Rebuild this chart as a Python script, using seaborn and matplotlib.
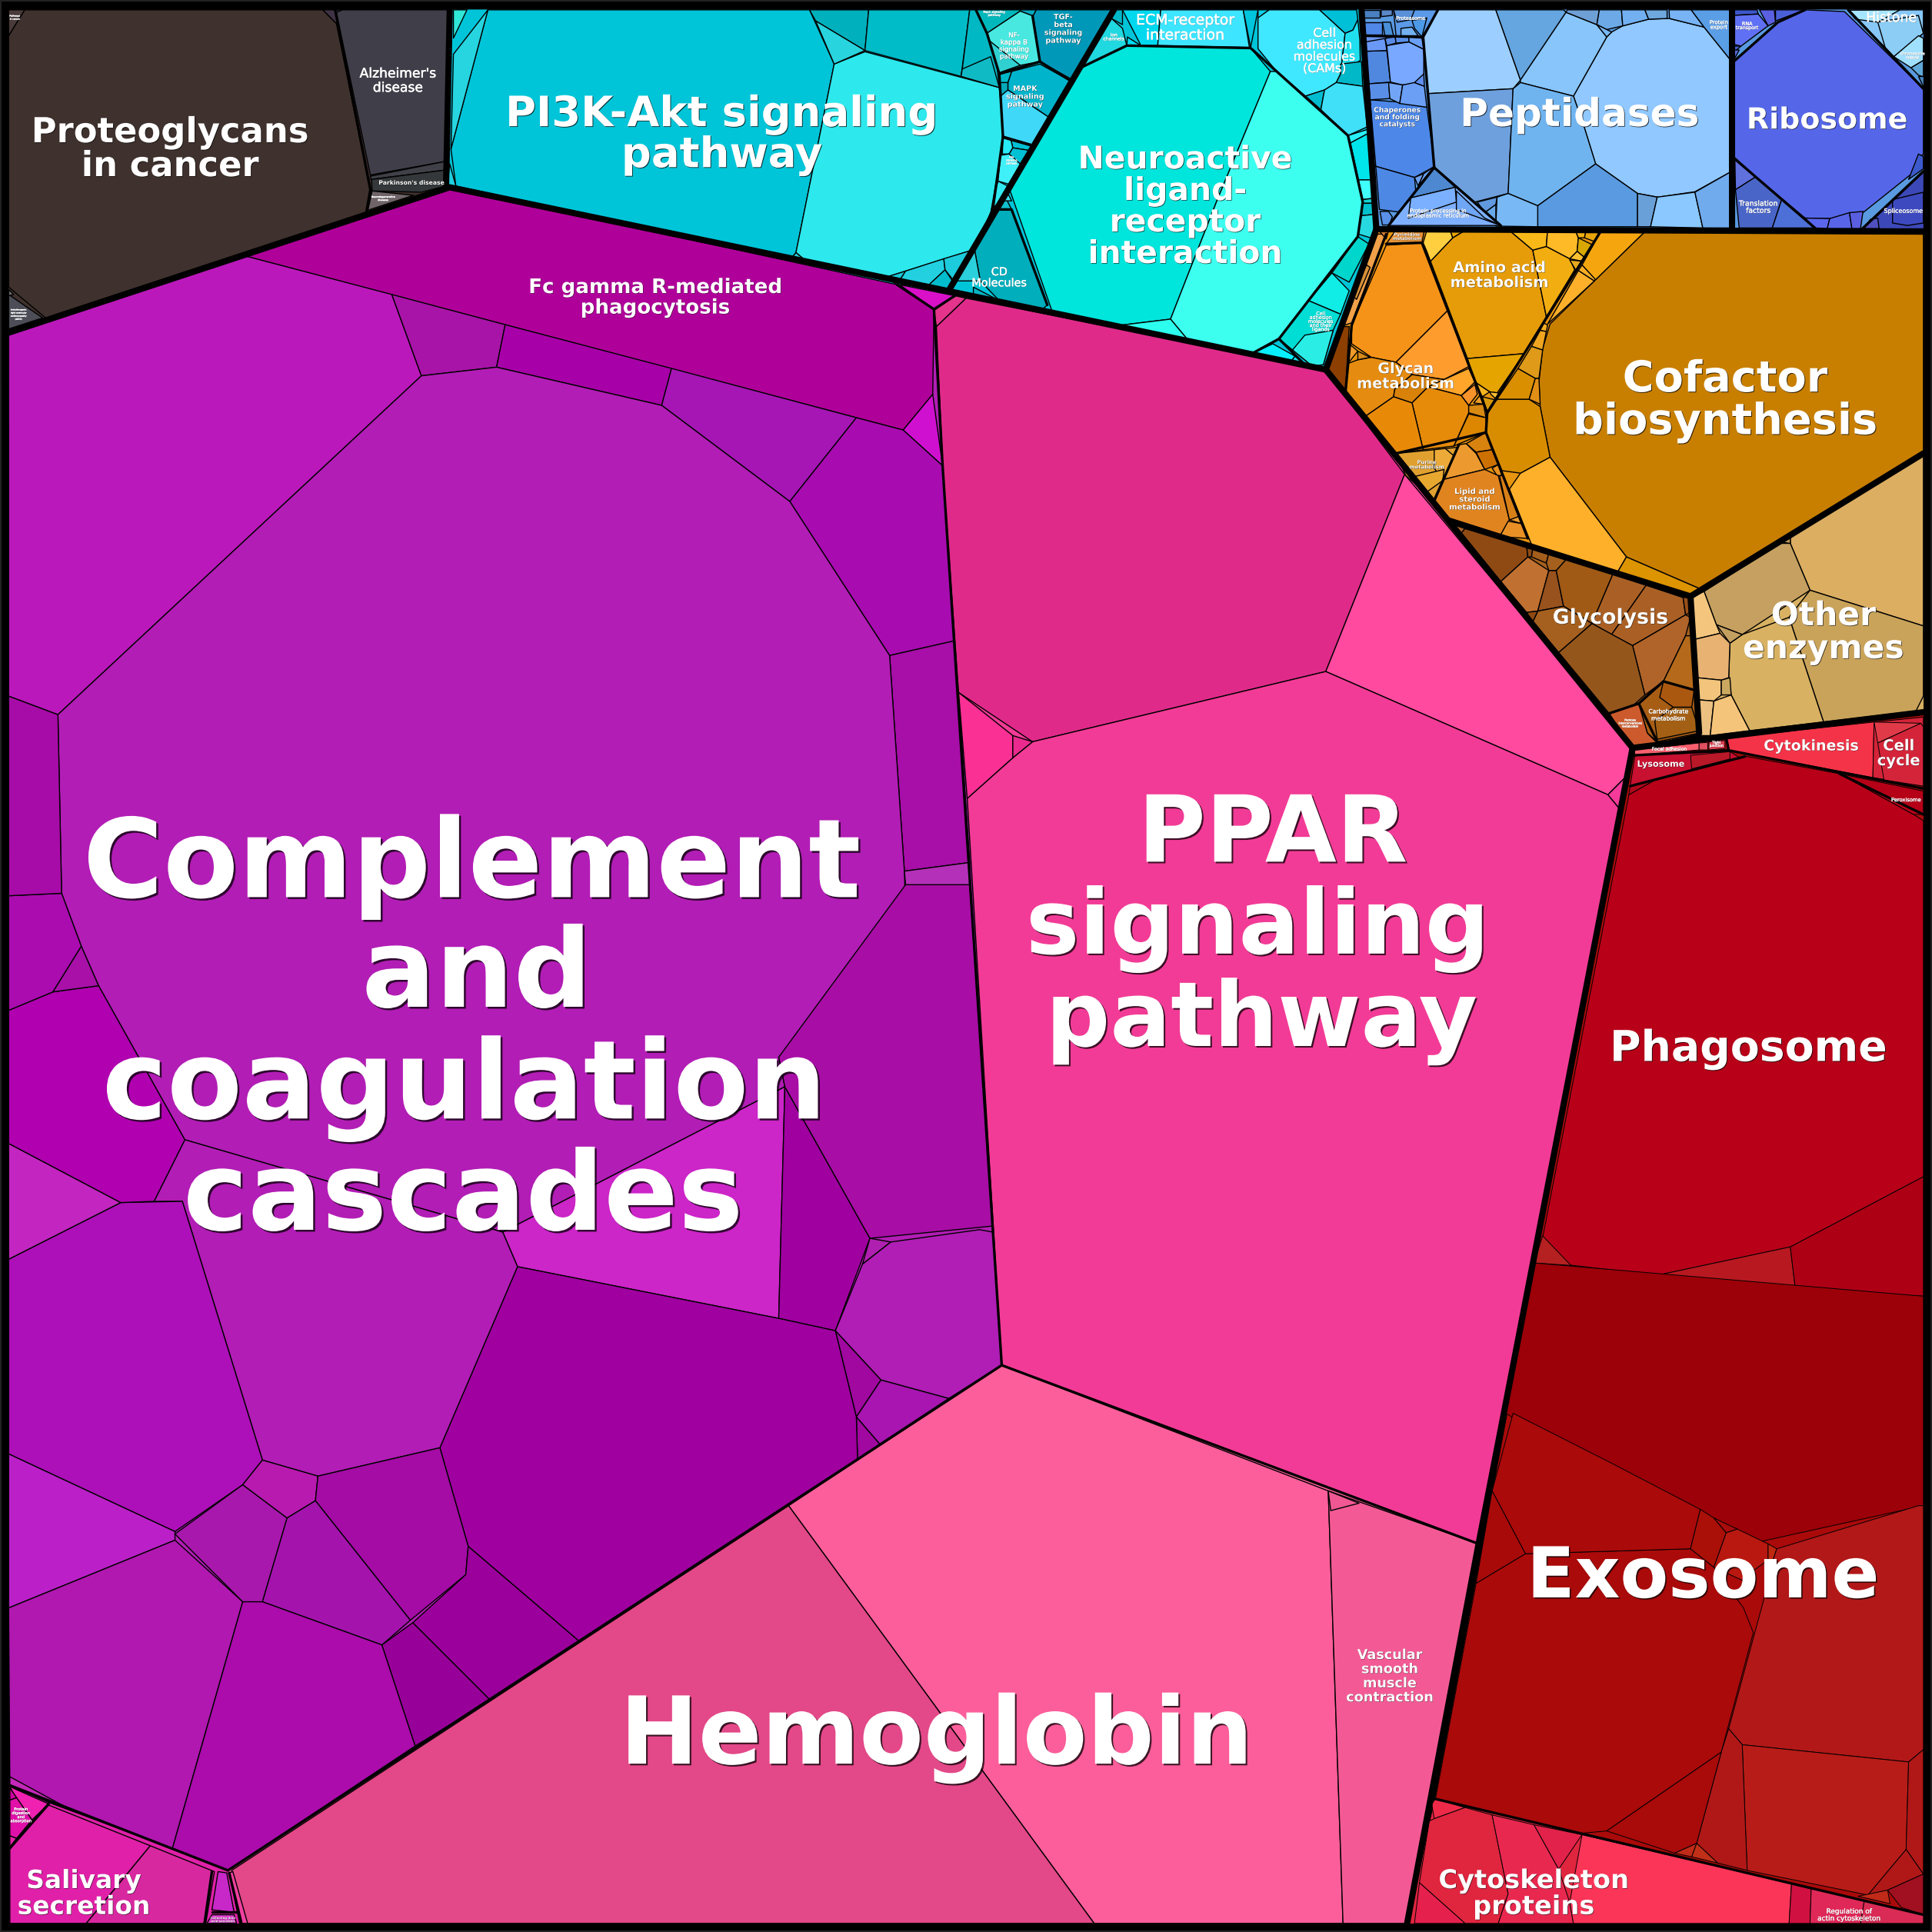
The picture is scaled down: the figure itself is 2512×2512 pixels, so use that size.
import matplotlib
matplotlib.use('Agg')
import matplotlib.pyplot as plt
import matplotlib.patheffects as pe
import pandas as pd
import seaborn as sns

# cells, in a 1568 x 1568 frame

base_polys = [
    [(7,8),(365,8),(362,152),(7,270)],
    [(365,8),(1105,8),(1117,186),(1076,300),(760,250),(365,152)],
    [(1105,8),(1561,8),(1561,188),(1117,186)],
    [(1117,186),(1561,188),(1561,368),(1372,484),(1177,423),(1076,300)],
    [(1177,423),(1372,484),(1379,595),(1325,607)],
    [(1372,484),(1561,368),(1561,578),(1380,597)],
    [(1325,607),(1561,578),(1561,1554),(1165,1460)],
    [(1165,1460),(1561,1554),(1561,1561),(1142,1561)],
    [(760,250),(1076,300),(1325,607),(1200,1253),(813,1108)],
    [(813,1108),(1200,1253),(1142,1561),(200,1561),(185,1518)],
    [(7,270),(365,152),(760,250),(813,1108),(185,1518),(8,1449)],
    [(8,1442),(185,1518),(200,1561),(8,1561)],
]
base_colors = ['#3f312d','#00c5d8','#5a9ae0','#e8950f','#a5601e','#d8b162',
               '#aa0a0a','#e0253f','#f23b96','#fb5e9a','#b21db5','#e020a8']

dark_polys = [
    [(7,29),(20,8),(262,8),(273,19),(300.6,154),(297.4,172),(37,258),(7,233)],
    [(7,8),(20,8),(7,29)],
    [(262,8),(278,8),(273,19)],
    [(273,10),(278,8),(365,8),(361.6,131),(300.6,142)],
    [(300.6,143),(361.6,131),(361.6,138),(301,145.6)],
    [(301.6,145.6),(361.6,138),(361.6,151),(342,156),(302,155)],
    [(302,155),(335.6,158.5),(298.6,170.6)],
    [(7,239),(34.6,258),(7,267)],
    [(7,235),(11,239),(7,240)],
]
dark_colors = ['#3f312d','#4a3a3a','#3f3345','#403e49','#404048','#34383a',
               '#6f6468','#4d4d57','#6a6a6a']

purple_polys = [
    [(200,208),(365,152),(728,231),(758,251),(757,320),(733,349)],
    [(733,349),(757,320),(765,378)],
    [(730,231),(775,240),(758,251)],
    [(7,270),(200,208),(318,239),(342,305),(47,580),(7,565)],
    [(318,239),(410,263.5),(403,298),(342,305)],
    [(410,263.5),(545,299),(537,329),(403,298)],
    [(545,299),(695,339),(641,407),(537,329)],
    [(695,339),(733,349),(765,378),(775,520),(722,532),(641,407)],
    [(722,532),(775,520),(787,700),(734,707)],
    [(342,305),(403,298),(537,329),(641,407),(722,532),(734,707),(735,740),(632,858),(637,882),(408,1000),(150,925),(80,800),(66,768),(50,725),(47,580)],
    [(408,1000),(637,882),(632,1070),(420,1028)],
    [(637,882),(706,1005),(678,1080),(632,1070)],
    [(735,718),(787,718),(806,995),(706,1005),(637,882),(632,858)],
    [(734,707),(787,700),(787,718),(735,718)],
    [(706,1005),(723,1008),(700,1026)],
    [(723,1008),(795,998),(806,1000),(813,1108),(770,1135),(715,1120),(678,1080),(700,1026)],
    [(678,1080),(715,1120),(695,1150)],
    [(715,1120),(770,1135),(714,1172),(695,1150)],
    [(695,1150),(714,1172),(696,1185)],
    [(420,1028),(632,1070),(678,1080),(695,1150),(696,1185),(470,1332),(380,1255),(357,1175)],
    [(125,975),(150,925),(408,1000),(420,1028),(357,1175),(258,1198),(213,1185),(148,975)],
    [(7,1022),(98,976),(148,975),(213,1185),(197,1205),(142,1243),(7,1180)],
    [(7,928),(98,976),(7,1022)],
    [(7,820),(43,805),(80,800),(150,925),(125,975),(98,976),(7,928)],
    [(7,727),(50,725),(66,768),(43,805),(7,820)],
    [(66,768),(80,800),(43,805)],
    [(7,565),(47,580),(50,725),(7,727)],
    [(7,1180),(142,1243),(142,1250),(7,1305)],
    [(7,1305),(142,1250),(197,1300),(140,1500),(40,1463),(8,1449)],
    [(197,1205),(233,1232),(213,1300),(197,1300),(142,1245)],
    [(213,1185),(258,1198),(256,1218),(233,1232),(197,1205)],
    [(258,1198),(357,1175),(380,1255),(378,1278),(333,1315),(256,1218)],
    [(378,1278),(380,1255),(470,1332),(398,1380),(335,1317)],
    [(233,1232),(256,1218),(333,1315),(310,1335),(213,1300)],
    [(197,1300),(213,1300),(310,1335),(337,1417),(185,1518),(140,1500)],
    [(310,1335),(335,1317),(398,1380),(337,1417)],
]
purple_colors = ['#b0009a','#d010d0','#d910c8','#bb18bb','#a814a8','#a800a8','#a516b5','#a80cb0',
                 '#a80ea8','#b21db5','#cc25c8','#a000a0','#a80ea5','#b530b8','#b020b0',
                 '#b01eb5','#a008a0','#a815b0','#a008a0','#a000a0','#b21db5','#ad10b8',
                 '#c325c0','#b000b0','#ab0cb0','#a810a8','#a80ca8','#bb20c8','#b018b0',
                 '#a818ad','#b81ab0','#a40ca5','#9c009c','#a414ad','#ab0cab','#98009a']

pink_polys = [
    [(760,265),(784,242),(1076,300),(1140,385),(1076,545),(838,602),(778,562),(765,378)],
    [(758,252),(775,240),(784,242),(760,265)],
    [(1140,385),(1325,607),(1322,628),(1305,645),(1076,545)],
    [(838,602),(1076,545),(1305,645),(1315,657),(1200,1253),(813,1108),(785,648),(822,615)],
    [(1305,645),(1322,628),(1315,657)],
    [(778,562),(822,597),(822,615),(785,648)],
    [(822,597),(838,602),(822,615)],
    [(813,1108),(1078,1210),(1090,1561),(888,1561),(640,1222)],
    [(640,1222),(888,1561),(200,1561),(188,1518)],
    [(1078,1210),(1200,1253),(1143,1561),(1090,1561)],
    [(1078,1210),(1103,1220),(1080,1226)],
]
pink_colors = ['#e02a8a','#e4348c','#ff4a9f','#f23b96','#f53a9a','#fb3095','#ea2a8e','#fb5e9a',
               '#e34888','#f35a95','#ef5892']

red_polys = [
    [(1322,645),(1345,632),(1418,614),(1493,628),(1553,661),(1561,666),(1561,955),(1453,1012),(1345,1035),(1260,1025),(1248,1025)],
    [(1345,1035),(1453,1012),(1457,1045)],
    [(1453,1012),(1561,955),(1561,1052),(1457,1045)],
    [(1252,1003),(1275,1027),(1245,1025)],
    [(1245,1025),(1561,1052),(1561,1222),(1402,1257),(1222,1147)],
    [(1198,1285),(1238,1261),(1372,1257),(1391,1272),(1415,1305),(1423,1325),(1397,1422),(1304,1486),(1282,1488),(1165,1460)],
    [(1228,1147),(1305,1186),(1380,1225),(1372,1257),(1238,1261),(1211,1210)],
    [(1211,1210),(1238,1261),(1198,1285)],
    [(1380,1225),(1391,1232),(1401,1244),(1391,1272),(1372,1257)],
    [(1391,1232),(1410,1241),(1401,1244)],
    [(1401,1244),(1410,1241),(1435,1253),(1435,1266),(1424,1274),(1415,1283),(1391,1272)],
    [(1435,1253),(1442,1257),(1438,1269),(1435,1266)],
    [(1442,1257),(1557,1222),(1561,1222),(1561,1420),(1549,1430),(1414,1416),(1403,1403),(1431,1300),(1438,1269)],
    [(1414,1416),(1549,1430),(1547,1501),(1516,1538),(1418,1518)],
    [(1403,1403),(1414,1416),(1418,1518),(1394,1512),(1377,1496),(1397,1422)],
    [(1359,1504),(1377,1496),(1373,1507)],
    [(1304,1486),(1397,1422),(1377,1496),(1359,1504)],
    [(1377,1496),(1394,1512),(1373,1507)],
    [(1549,1430),(1561,1420),(1561,1521),(1547,1501)],
    [(1516,1538),(1547,1501),(1561,1521),(1532,1534)],
    [(1532,1534),(1561,1521),(1561,1554),(1543,1548)],
    [(1508,1539),(1532,1534),(1534,1545)],
    [(1401,599),(1521,586),(1520,631),(1403,609)],
    [(1521,586),(1561,582),(1561,638),(1520,631)],
    [(1521,586),(1559,587),(1524,603)],
    [(1524,603),(1559,587),(1561,590),(1561,638),(1529,633)],
    [(1326,608.6),(1379,603),(1379,608.6),(1327,613)],
    [(1379,603),(1386,602.5),(1386,608.6),(1379,608.6)],
    [(1387,602),(1400,601),(1400,607.5),(1387,608.6)],
    [(1327,613),(1404,610),(1412,615),(1323,638)],
    [(1372,613),(1404,610),(1404,616),(1373,624)],
    [(1323,638),(1345,632),(1322,645)],
    [(1493,628),(1561,642),(1561,661),(1553,661)],
    [(1165,1460),(1189,1467),(1164,1476),(1162,1464)],
    [(1189,1467),(1211,1473),(1224,1537),(1216,1561),(1189,1561),(1152,1528),(1160,1478),(1164,1476)],
    [(1152,1528),(1189,1561),(1148,1561)],
    [(1211,1473),(1245,1481),(1265,1517),(1274,1544),(1277,1561),(1216,1561),(1224,1537)],
    [(1245,1481),(1284,1489),(1265,1517)],
    [(1284,1489),(1454,1529),(1452,1561),(1277,1561),(1274,1544)],
    [(1454,1529),(1470,1533),(1469,1561),(1452,1561)],
    [(1470,1533),(1508,1541),(1513,1543),(1510,1561),(1469,1561)],
    [(1513,1543),(1561,1554),(1561,1561),(1510,1561)],
]
red_colors = ['#b80018','#b81820','#ad0015','#b52020','#9c0008','#aa0a0a','#aa0a0a','#a80a0a',
              '#aa1008','#a80c0c','#b81810','#c02810','#b21818','#b81c18','#b01818','#c02a18',
              '#a90a0a','#c03018','#b01818','#b01818','#a01020','#c02a18','#f53348','#d42338',
              '#e03a48','#d4243a','#f9606e','#e05060','#d8404f','#c81030','#b81828','#b0081c',
              '#b50018','#ee2a48','#e0253f','#e6204c','#e92850','#e2224a','#fb3558','#d01040',
              '#e02858','#d92b55']

tan_polys = [
    [(1453,441),(1453,435),(1561,368),(1561,508),(1469,479)],
    [(1383,480),(1445,441),(1453,441),(1469,479),(1414,515),(1393,507)],
    [(1446,440),(1453,435),(1453,441)],
    [(1452,501),(1469,479),(1561,508),(1561,565),(1555,577),(1480,586)],
    [(1414,515),(1452,501),(1480,586),(1420,593),(1405,564),(1403,550),(1404,522)],
    [(1393,507),(1414,515),(1404,522)],
    [(1373,485),(1383,480),(1393,507),(1396,514),(1375,519)],
    [(1375,519),(1396,514),(1404,522),(1403,550),(1397,552),(1377,550)],
    [(1377,550),(1397,552),(1397,564),(1391,569),(1379,568)],
    [(1379,568),(1391,569),(1388,597),(1380,597)],
    [(1391,569),(1405,564),(1420,593),(1388,597)],
    [(1397,552),(1404,550),(1405,564),(1397,564)],
]
tan_colors = ['#dcae62','#c5a060','#c09a58','#c9a35a','#d8b162','#c4a060','#f4c67d','#e7b272',
              '#f2c47c','#ecc080','#f4c47a','#caa860']

brown_polys = [
    [(1177,423),(1189,429),(1184,435)],
    [(1189,429),(1239,443),(1240,452),(1218,472),(1184,435)],
    [(1218,472),(1240,452),(1257,463),(1248,496),(1239,497)],
    [(1257,463),(1263,463),(1269,492),(1248,496)],
    [(1263,463),(1271,454),(1309,466),(1292,506),(1269,492)],
    [(1239,443),(1244,445),(1243,452),(1240,452)],
    [(1244,445),(1257,449),(1255,457),(1243,452)],
    [(1257,449),(1271,454),(1263,463),(1257,463),(1255,457)],
    [(1309,466),(1336,475),(1308,515),(1292,506)],
    [(1336,475),(1366,485),(1368,499),(1325,524),(1308,515)],
    [(1366,485),(1372,484),(1372,497),(1368,499)],
    [(1368,499),(1372,501),(1368,516),(1350,553),(1335,564),(1325,524)],
    [(1265,529.5),(1292,506),(1325,524),(1335,564),(1326,572),(1306,579)],
    [(1244,504.6),(1248,496),(1269,492),(1292,506),(1265,529.5)],
    [(1239,497),(1248,496),(1244,504.6)],
    [(1368,516),(1373,516),(1375,560),(1350,553)],
    [(1330,571),(1350,553),(1375,560),(1379,595),(1345,602),(1337,595)],
    [(1347,566),(1350,553),(1375,560),(1373,574),(1358,574)],
    [(1343,585),(1358,574),(1373,574),(1379,593),(1345,600)],
    [(1306,579),(1330,571),(1337,595),(1345,603),(1325,607.5)],
]
brown_colors = ['#a9642a','#8f4a14','#c07030','#98521e','#a05a15','#8a4a14','#a35e1c','#a5601e',
                '#aa6025','#aa6025','#9a5018','#b0642a','#95561c','#a5601f','#8f4a14','#b46a1a',
                '#a85d15','#aa5810','#a36015','#cc5a2c']

orange_polys = [
    [(1258,263),(1335,188),(1561,190),(1561,368),(1380,478),(1320,452),(1258,371),(1250,330),(1249,310),(1252,283)],
    [(1258,371),(1234,384),(1225,397),(1241,437),(1243,442),(1313,464),(1320,452)],
    [(1320,452),(1380,478),(1372,484),(1313,464)],
    [(1250,330),(1258,371),(1234,384),(1219,382),(1206,351),(1207,336),(1215,324),(1241,324)],
    [(1241,324),(1246,307),(1249,307),(1250,328)],
    [(1215,324),(1232,299),(1246,307),(1241,324)],
    [(1232,299),(1243,281),(1252,284),(1249,307),(1246,307)],
    [(1243,281),(1250,268),(1255,269),(1252,284)],
    [(1256,263),(1281,219.5),(1294,228)],
    [(1281,219.5),(1284,215),(1295,226.4),(1294,228)],
    [(1284,215),(1299,188),(1335,188),(1295,227)],
    [(1250,268),(1253,262),(1256,264),(1255,269)],
    [(1161,212),(1179,193),(1189,187),(1225,187),(1244,203),(1255,257),(1237,287),(1191,291)],
    [(1191,291),(1237,287),(1215,319),(1209,318),(1197,310)],
    [(1244,203),(1255,200),(1274,210),(1278,219),(1255,257)],
    [(1158,187),(1177,187),(1179,193),(1161,212),(1158,204),(1155,197)],
    [(1177,187),(1189,187),(1179,193)],
    [(1225,187),(1256,187),(1255,200),(1244,203)],
    [(1256,187),(1279,188),(1281,193),(1280,204),(1274,210),(1255,200)],
    [(1281,193),(1293,199),(1286,209),(1280,204)],
    [(1279,188),(1287,188),(1286,193),(1281,193)],
    [(1287,188),(1298,188),(1294,196),(1286,193)],
    [(1280,204),(1286,209),(1284,212),(1274,210)],
    [(1274,211),(1284,212),(1279,219.5)],
    [(1197,310),(1209,318),(1203,322)],
    [(1209,318),(1217,319),(1215,324.6),(1210,320)],
    [(1203,322),(1214,324.6),(1207,335)],
    [(1125,199),(1154,197),(1175,252),(1133,294),(1113,290),(1097,279),(1097,264)],
    [(1133,294),(1175,252),(1192,297.5),(1172,308),(1146,304)],
    [(1102,292),(1113,290),(1133,294),(1146,304),(1132,316),(1131,322),(1108,338),(1092,318),(1094,295)],
    [(1132,316),(1146,304),(1172,308),(1159,314),(1146,327),(1131,322)],
    [(1172,308),(1192,299),(1197,310),(1186,321),(1159,314)],
    [(1146,327),(1159,314),(1186,321),(1192,329),(1192,335),(1180,362),(1155,365)],
    [(1108,338),(1131,322),(1146,327),(1155,365),(1133,368)],
    [(1186,321),(1197,312),(1199,320),(1192,329)],
    [(1196,327),(1201,321),(1204,328)],
    [(1192,329),(1204,328),(1206,339),(1192,335)],
    [(1192,336),(1206,339),(1206,351),(1180,362)],
    [(1095,279),(1102,285),(1094,295)],
    [(1102,285),(1112,290),(1102,292)],
    [(1172,389),(1184,361),(1190,360),(1198,368),(1205,381)],
    [(1190,360),(1206,351),(1211,365),(1198,367)],
    [(1198,367),(1211,365),(1216,377),(1205,381)],
    [(1216,377),(1219,386),(1215,386),(1211,380)],
    [(1172,389),(1205,381),(1216,386),(1225,422),(1218,434),(1175,420),(1164,408)],
    [(1217,386),(1220,386),(1233,420),(1225,422)],
    [(1225,422),(1233,419),(1235,425)],
    [(1224,423),(1235,425),(1240,437),(1225,436),(1218,434)],
    [(1133,368),(1164,365),(1183,363),(1171,390),(1164,406),(1141,386)],
    [(1164,365),(1173,364),(1180,370),(1171,390),(1164,380)],
    [(1147,387),(1172,381),(1171,390),(1157,400)],
    [(1076,300),(1089,265),(1095,265),(1092,318)],
    [(1091,264),(1118,190),(1125,190),(1097,262)],
    [(1098,240),(1109,215),(1112,217),(1101,243)],
    [(1125,198),(1132,188),(1156,187),(1154,197)],
    [(1119,187),(1127,187),(1125,194)],
]
orange_colors = ['#c87f00','#ffb02b','#dc9400','#d88d00','#e28f15','#da8f00','#de9a18','#f0a520',
                 '#ffb02b','#f8ad25','#f5a60f','#f5ae20','#e69c08','#e5a400','#f2ad10','#ffcf40',
                 '#e5a400','#f8b818','#ffba28','#d9a800','#f0b010','#e8a50a','#fcc030','#e8a820',
                 '#f5b520','#ffbe30','#d89808','#f59318','#ff9c2e','#e58c10','#d8820a','#ffa52a',
                 '#e68a0a','#e88a08','#f8922a','#ee9e28','#d98a12','#dd8600','#f09a2a','#d88a1a',
                 '#ec9a30','#d88210','#cc7000','#e69020','#e08420','#d88018','#e89a30','#e89025',
                 '#e0a030','#ecaa38','#e8a830','#8c3f00','#f0a048','#d89038','#e89438','#d88030']

cyan_polys = [
    [(396,8),(657,8),(677,52),(646,205),(642,210),(370,151),(366,121)],
    [(677,52),(702,42),(811,71),(815,111),(804,173),(789,203),(719,225),(652,210),(646,205)],
    [(657,8),(705,8),(702,41),(662,17)],
    [(662,17),(702,41),(677,52)],
    [(705,8),(787,8),(780,62),(702,41)],
    [(787,8),(792,8),(803,27),(809,52),(811,71),(780,62),(781,56)],
    [(781,56),(804,46),(811,71),(780,62)],
    [(368,44),(396,8),(366,121)],
    [(368,8),(379,8),(368,31)],
    [(365,133),(370,151),(363,151)],
    [(719,225),(735,220),(728,231)],
    [(735,220),(766,210),(767,219),(753,232),(728,231)],
    [(766,210),(789,203),(775,229),(767,219)],
    [(767,219),(775,231),(770,236),(753,232)],
    [(642,210),(646,205),(652,210)],
    [(792,8),(828,8),(828,9),(801,27)],
    [(828,8),(841,8),(838.5,13),(828,9)],
    [(801,27),(828,9),(838.5,13),(844,50),(828,53),(811,59)],
    [(803,33),(811,59),(828,53)],
    [(841,8),(904,8),(870,64.5),(844,50),(838.5,13)],
    [(821,58),(844,52),(868.4,65.5),(851,95),(818,73),(818,67)],
    [(812,77),(818,73),(851,95),(838,118),(814,111)],
    [(810.6,67),(818,67),(818,73),(812,78)],
    [(811,60),(821,58),(818,67),(810.6,67)],
    [(820.6,114),(837,118.6),(835,122),(822,120)],
    [(814,112),(820.6,114),(822,120),(819,125),(813.5,125)],
    [(819,125),(822,120),(835,122),(828,133),(818,131)],
    [(812,126),(819,125),(828,133),(820.6,150),(810,147)],
    [(810,147),(818,151),(805,175),(807,158)],
    [(902,15),(911,23),(914.5,37),(878,54.5)],
    [(905,8),(911,8),(911,20),(902,15)],
    [(911,8),(942,8),(939.6,37),(914.5,37),(915,30),(926,37)],
    [(942,8),(1009,8),(1014,38.5),(939.6,37)],
    [(1009,8),(1021,8),(1015,38.5)],
    [(1021,8),(1030,8),(1021,15)],
    [(1030,8),(1071,8),(1091.7,27),(1088,60),(1084.5,67),(1075,73),(1059.5,78),(1036,58),(1021,39.5),(1021,14.5)],
    [(1071,8),(1101,8),(1102,16),(1098,24.5),(1091.7,27)],
    [(1102,16),(1103.6,32),(1104,49),(1088,60),(1091.7,27),(1098,24.5)],
    [(1088,52),(1105,50),(1106,70),(1084.5,67),(1088,60)],
    [(1059.5,78),(1075,73),(1072,89)],
    [(1075,73),(1084.5,67),(1106,70),(1109.6,103),(1094,110),(1072,89)],
    [(1094,110),(1110,105),(1111,108),(1096,116)],
    [(1096,116),(1111,108),(1113,146),(1102.5,146)],
    [(1102.5,146),(1113,146),(1114,161),(1106,162)],
    [(1106,162),(1114,161),(1115,165),(1106,165)],
    [(1106,165),(1115,165),(1115.6,174),(1105,175)],
    [(1105,175),(1115.6,174),(1116,183),(1114,193.5),(1102.4,190)],
    [(878,54.5),(914.5,37),(1015,39),(1031,58),(988,162),(950,259),(909,264),(854,253),(819.5,154)],
    [(1031,58),(1036,58),(1094,110),(1106,164),(1102,192),(1062,244),(1038,275),(1016,287),(965,277),(950,259),(988,162)],
    [(909,264),(950,259),(965,277)],
    [(1081,221.5),(1095,236),(1088,255),(1062,244)],
    [(1102,192),(1111,198),(1095,229),(1081,221.5)],
    [(1062,244),(1088,255),(1082,268),(1074,296),(1065,297),(1049,284),(1038,275)],
    [(1049,284),(1059,272),(1082,268),(1074,296),(1065,297)],
    [(1016,287),(1033,279),(1051,289),(1047.5,294)],
    [(1051,289),(1059,296),(1047.5,294)],
    [(791,203),(805,170),(821,170),(850,247.5),(846,251),(811,244),(795.6,228)],
    [(791,203),(795.6,228),(775,228)],
    [(790,233),(811,244),(790,239)],
    [(805,170),(821,170),(817,162),(811.6,163)],
    [(811.6,163),(817,155),(821,163)],
]
cyan_colors = ['#00c5d8','#2de8ec','#00b0bc','#28d5de','#00bcc8','#00b8c4','#10bac5','#26d5e0',
               '#30e8d8','#20d0e0','#18cad8','#22d0e0','#1ccbdc','#00bccc','#20d0dc','#00b8bc',
               '#08a8c0','#48e8e0','#30d0d0','#0098b8','#00b4cc','#40d8f8','#00aabb','#00b8c8',
               '#00c0d4','#28eaf8','#00c0d4','#40f0f8','#30e8f0','#20d8e0','#00b8c8','#00d8f0',
               '#3de5ff','#00c5dd','#10d0e8','#40e8ff','#00c0d8','#20e0f0','#00b8c8','#00bcd0',
               '#3fe0f8','#28f0f8','#00e4ec','#40ffff','#10d0d0','#00c0cc','#28d8e0','#00e5dc',
               '#3cfff0','#2cffee','#10ece6','#00d6cc','#00ddd4','#2aeee6','#08f0ff','#18e0ea',
               '#00aebc','#2ad0dc','#06b5c5','#10c0cc','#3ce0ee']

blue_polys = [
    [(1304,30),(1308,26),(1317,21),(1338,15.6),(1354.6,15),(1383,22),(1405.5,50),(1405.5,139),(1375.6,155.6),(1345.6,160),(1329,157),(1295,133),(1286,104),(1277,78)],
    [(1155,30),(1163,8),(1214,8),(1234,65),(1228,72),(1159,76)],
    [(1214,8),(1269,8),(1271,10),(1234,65)],
    [(1271,10),(1296,20),(1304,30),(1277,78),(1234,67),(1234,65)],
    [(1159,76),(1228,72),(1224,157),(1197,164),(1164,136)],
    [(1228,72),(1234,67),(1277,78),(1286,104),(1295,133),(1248,167),(1224,157)],
    [(1295,133),(1329,157),(1329,184),(1248,184),(1248,167)],
    [(1329,157),(1345,160),(1339.6,184),(1329,184)],
    [(1345,160),(1375.6,156),(1382,185),(1339.6,184)],
    [(1375.6,156),(1405.5,139),(1405.5,185),(1382,185)],
    [(1215,160),(1224,157),(1248,167),(1248,184),(1214,183.5)],
    [(1199,164),(1215,160),(1214,166),(1205,172.6)],
    [(1214,166),(1214,183),(1205,172.6)],
    [(1272,8),(1298,8),(1296,20),(1271,10)],
    [(1298,8),(1316,8),(1317,21),(1304,24),(1296,20)],
    [(1316,8),(1335,8),(1338,15.6),(1317,21)],
    [(1335,8),(1353,8),(1353,15),(1338,15.6)],
    [(1296,20),(1308,26),(1304,30)],
    [(1354.6,8),(1372.6,8),(1383,22),(1355,15)],
    [(1372.6,8),(1405.5,8),(1405.5,50),(1383,22)],
    [(1112,81),(1137.5,83),(1158,87),(1164.5,135),(1148,144),(1116.6,135)],
    [(1108.5,41.6),(1125.5,41),(1128.5,66.6),(1111,68)],
    [(1125.5,37),(1143.5,34),(1155.5,40),(1155.5,66.6),(1138.4,69),(1128.5,66.6)],
    [(1111,68),(1127,67),(1128,80),(1112,81)],
    [(1127,67),(1138.4,69),(1136,84),(1128,80)],
    [(1138.4,69),(1148,67),(1156,70),(1158,87),(1136,84)],
    [(1148,67),(1155.5,60),(1156,70)],
    [(1108.5,33),(1124,31),(1125.5,41),(1108.5,41.6)],
    [(1124,31),(1132.4,30),(1133,35),(1125.5,37)],
    [(1132.4,30),(1143.5,30),(1143.5,34),(1133,35)],
    [(1143.5,30),(1154,31),(1155.5,40),(1143.5,34)],
    [(1116.6,135),(1148,144),(1149.5,160),(1134.5,172),(1119.5,170)],
    [(1148,144),(1155.5,141),(1151,151)],
    [(1155.5,141),(1164,135),(1151,151)],
    [(1120,171.6),(1127,171.6),(1130,176),(1127.6,182.6),(1122,182.6)],
    [(1164,136),(1218,183),(1127,183)],
    [(1164,136),(1181,152),(1145,160.6)],
    [(1145,160.6),(1181,152),(1182,164),(1143,177)],
    [(1182,155),(1205,177),(1218,183),(1182,170)],
    [(1131,8),(1167.5,8),(1154,30),(1133,29)],
    [(1146,16.6),(1158,14.5),(1154,30),(1148,23)],
    [(1137,23),(1146,22),(1151,29),(1137,29)],
    [(1131,8),(1148,8),(1145,16),(1134,18)],
    [(1106,8),(1120,8),(1120,14.6),(1106,14.6)],
    [(1121,8),(1130,8),(1130,12.5),(1121,13.5)],
    [(1107,18),(1122,18),(1122,28),(1107.6,28)],
    [(1122,18),(1128.5,18),(1131,29),(1124,29)],
    [(1107.6,29),(1124,29),(1125.5,31),(1108.5,34)],
    [(1407,50),(1443,18),(1465,8),(1497,9.4),(1561,72),(1561,125),(1556.7,129),(1551,141.4),(1512,172.6),(1485,177.4),(1465,177),(1425,143.5),(1407,127)],
    [(1408,129),(1425,143.5),(1408.5,154)],
    [(1408.5,154),(1425,143.5),(1446,162),(1438.4,185),(1411.5,185)],
    [(1446,162),(1473,185),(1438.4,185)],
    [(1465,177),(1485,177.4),(1483,185.5),(1473,185)],
    [(1485,177.4),(1501,172.6),(1503,185.5),(1483,185.5)],
    [(1501,172.6),(1512,171.6),(1510,185.5),(1503,185.5)],
    [(1407,8),(1426,8),(1427,11.4),(1407,12.5)],
    [(1407,12.5),(1427,11.4),(1435,21),(1413,37.4),(1407,36)],
    [(1428,8),(1440,8),(1441,18),(1435,21)],
    [(1441,8),(1465,8),(1441,17)],
    [(1407,37.4),(1413,37.4),(1407,42.6)],
    [(1407,40.6),(1411.5,40.6),(1407,49)],
    [(1561,139),(1561,185.5),(1511.8,185.5)],
    [(1536,162),(1561,156),(1561,181),(1548,183),(1536,181)],
    [(1518,178),(1524,177),(1525,185.5),(1513,185.5)],
    [(1557,125),(1561,127),(1561,137),(1549,145.6)],
    [(1500,8.3),(1561,8),(1561,27),(1537,46)],
    [(1500,8.3),(1542,8),(1524,18),(1506,15.6)],
    [(1524,18),(1557,12.5),(1561,27),(1537,46),(1530,38.5)],
    [(1537,46),(1557,29),(1561,31),(1561,49),(1551,55)],
    [(1551,55),(1561,49),(1561,62.4),(1557,61)],
    [(1557,62),(1561,62),(1561,71)],
]
blue_colors = ['#90c8ff','#9ccfff','#65a5e0','#87c5fb','#6ea0dd','#70b4ef','#5a9ae0','#6aa0d8',
               '#8ac8ff','#70abee','#78b8f5','#6099dd','#68a8e8','#6ea0d6','#6ca9e6','#72b0f2',
               '#6ea8df','#78b8f5','#78b4f5','#5a9ee6','#4d88e8','#5088e0','#78a8ff','#5a8fe8',
               '#72a5f5','#6a9ff5','#6090f0','#6a98f5','#5a8ae8','#5a8fe8','#6aa0f5','#4d88e5',
               '#6ea0ee','#6aa0f5','#5a90e8','#7eb0ff','#4d88d0','#7ab0ff','#6fa6f5','#5a9ae8',
               '#4c9ae8','#72b0f0','#5a90d8','#4a80c0','#5a88c8','#5088e8','#4a90d8','#6a95ef',
               '#5567e8','#6070dd','#4a65c8','#4d70d8','#5b66ee','#5865e8','#5a5ee0','#3d57cc',
               '#6070f5','#5a60e0','#4a60d8','#4460d0','#5a70e8','#3d48b8','#3d4abf','#5050c0',
               '#3d5acc','#88c8f8','#a5e5ff','#8ccdf5','#a0e0ff','#60a8d8','#4a88c0']

salivary_polys = [
    [(8,1500),(39.5,1465),(122,1498),(70,1561),(8,1561)],
    [(122,1498),(174,1519),(167,1561),(70,1561)],
    [(8,1450),(39.5,1464),(26,1477),(13.5,1461)],
    [(8,1451),(13.5,1459),(8,1461)],
    [(8,1461),(13.5,1459),(26,1477),(13.5,1492),(8,1490)],
    [(8,1490),(13.5,1492),(8,1499)],
    [(8,1442),(56,1468),(8,1449)],
    [(177,1519),(184,1520),(190,1552),(172,1550)],
    [(172,1554),(190,1554),(192,1561),(168,1561)],
    [(186,1520),(189,1519),(201,1561),(194.5,1561)],
]
salivary_colors = ['#e020a8','#d828a0','#f020b0','#d000a0','#e010a8','#e820a8','#c428b8',
                   '#c828c8','#e040d0','#f040a0']

# group boundaries, heavy and medium
heavy_edges = [
    [(7,270),(365,152),(1076,300),(1325,607)],
    [(365,8),(362,152)],
    [(1105,8),(1117,186),(1076,300)],
    [(1117,186),(1561,188)],
    [(1325,607),(1200,1253),(1142,1561)],
    [(1325,607),(1561,578)],
    [(1177,423),(1372,484),(1561,368)],
    [(1372,484),(1379,595)],
    [(1405.5,8),(1405.5,186)],
    [(770.5,235),(904,8)],
]
medium_edges = [
    [(272,8),(300.6,154),(297.4,172)],
    [(728,231),(758,251),(765,378),(813,1108)],
    [(758,251),(775,240)],
    [(813,1108),(1200,1253)],
    [(813,1108),(185,1518),(8,1449)],
    [(1165,1460),(1561,1554)],
    [(1403,609),(1561,640)],
    [(1326,613),(1403,609),(1401,599)],
    [(1323,638),(1416,614)],
    [(1561,661),(1493,628)],
    [(1500,8),(1561,72)],
    [(1511,186),(1561,139)],
    [(1407,50),(1443,18),(1465,8)],
    [(1155,30),(1167,8)],
    [(1107,29),(1155,30),(1164,136),(1218,183)],
    [(1164,136),(1127,183)],
    [(1154,197),(1207,335),(1206,351),(1240,437)],
    [(1299,188),(1207,335)],
    [(1125,198),(1154,197)],
    [(1092,318),(1097,264),(1125,190)],
    [(1133,368),(1206,351)],
    [(1184,361),(1164,406)],
    [(1306,579),(1330,571),(1350,553),(1375,560)],
    [(1330,571),(1345,602)],
    [(801,27),(811,60),(814,111),(805,175)],
    [(801,27),(792,8)],
    [(811,60),(844,50),(838,13)],
    [(844,50),(868,65)],
    [(838,118),(814,111)],
    [(878,54.5),(914.5,37),(1015,39),(1094,110),(1106,164),(1102,192),(1038,275),(1016,287)],
    [(805,170),(821,170),(850,247.5)],
    [(1038,275),(1059,296)],
    [(1408,129),(1473,185)],
    [(172,1519),(166,1561)],
    [(186,1520),(196,1561)],
    [(172,1552),(192,1552)],
    [(8,1500),(39.5,1464)],
]

# labels: text, centre x, centre y, em size, bold
labels = ['Complement','and','coagulation','cascades','PPAR','signaling','pathway','Hemoglobin','Exosome',
          'Phagosome','Cofactor\nbiosynthesis','Other\nenzymes','Peptidases','Ribosome',
          'PI3K-Akt signaling\npathway','Neuroactive\nligand-\nreceptor\ninteraction',
          'Proteoglycans\nin cancer','Salivary\nsecretion','Cytoskeleton\nproteins',
          'Fc gamma R-mediated\nphagocytosis','Glycolysis','Cytokinesis','Cell\ncycle',
          'Amino acid\nmetabolism','Glycan\nmetabolism',"Alzheimer's\ndisease",
          'ECM-receptor\ninteraction','Cell\nadhesion\nmolecules\n(CAMs)',
          'TGF-\nbeta\nsignaling\npathway','NF-\nkappa B\nsignaling\npathway',
          'MAPK\nsignaling\npathway','CD\nMolecules','Ion\nchannels',
          'Vascular\nsmooth\nmuscle\ncontraction','Chaperones\nand folding\ncatalysts',
          'Protein\nexport','Proteasome','Histone','Translation\nfactors','RNA\ntransport',
          'Spliceosome','Chromosome\nrelated','Protein processing in\nendoplasmic reticulum',
          'Pyrimidine\nmetabolism','Purine\nmetabolism','Lipid and\nsteroid\nmetabolism',
          'Cell\nadhesion\nmolecules\nand their\nligands','Carbohydrate\nmetabolism',
          'Pentose\ninterconversions\nmetabolism','Lysosome','Focal adhesion','Tight\njunction',
          'Peroxisome',"Parkinson's disease",'Regulation of\nactin cytoskeleton',
          'Ras\nsignaling\npathway','Rap1 signaling\npathway','Protein\ndigestion\nand\nabsorption',
          'Collecting duct\nacid secretion','Pathways\nin cancer',
          'Arrhythmogenic\nright ventricular\ncardiomyopathy\n(ARVC)',
          'Neurodegenerative\ndiseases']
label_x = [383,387,377,376,1033,1021,1024,760,1382,1419,1400,1480,1282,1483,586,962,138,68,1245,532,1307,
           1470,1541,1217,1141,323,962,1075,863,823,832,811,904,1128,1134,1395,1145,1535,1427,1418,
           1545,1552,1167,1142,1158,1197,1072,1354,1323,1348,1355,1393,1547,334,1501,821,807,17,181,
           12,15,311]
label_y = [699,788,879,969,675,750,825,1407,1278,850,324,512,92,97,108,167,120,1536,1536,241,501,
           605,611,223,305,65,22,41,23,37,78,225,30,1360,95,20,15,14,168,21,171,45,173,192,377,405,
           261,580,587,620,608,604,649,148,1554,130,11,1473,1558,14,255,161]
label_em = [88.8,88.8,88.8,88.8,75,73,73,76,57,34.5,34.8,26.5,31.3,23.7,34,25.5,28,20.5,21,16.3,
            16.7,11.9,12.2,12.1,12,10.7,11.8,9.9,6,5.4,6,9,3.8,11,5.7,4.3,4,10.8,5.8,4,5,3,4.4,3.5,
            4.3,6.3,4,4.7,2.3,7,3.8,2.8,4.2,4.8,5.6,2,2.4,3.2,2.4,1.8,1.6,2]
label_bold = [1,1,1,1,1,1,1,1,1,1,1,1,1,1,1,1,1,1,1,1,1,1,1,1,1,0,0,0,1,0,1,0,0,1,1,0,0,0,0,0,0,0,
              0,1,1,1,0,0,0,1,0,0,0,1,0,0,0,0,1,0,0,0]


def edges_frame(edges):
    rows = []
    for i, edge in enumerate(edges):
        for x, y in edge:
            rows.append({'edge': i, 'x': x, 'y': y})
    return pd.DataFrame(rows)


sns.set_theme(style='white')
plt.rcParams['font.family'] = ['DejaVu Sans']

fig = plt.figure(figsize=(25.12, 25.12), dpi=100, facecolor='#222222')
ax = fig.add_axes([0, 0, 1, 1])
ax.fill([1, 1567, 1567, 1], [1, 1, 1567, 1567], facecolor='black', linewidth=0)

for poly, col in zip(base_polys, base_colors):
    ax.fill(*zip(*poly), facecolor=col, edgecolor=col, linewidth=0.5)

groups = [(dark_polys, dark_colors, 1.0), (purple_polys, purple_colors, 1.0), (pink_polys, pink_colors, 1.0),
          (red_polys, red_colors, 0.7), (tan_polys, tan_colors, 1.0), (brown_polys, brown_colors, 1.0),
          (orange_polys, orange_colors, 1.0), (cyan_polys, cyan_colors, 1.0), (blue_polys, blue_colors, 1.0),
          (salivary_polys, salivary_colors, 1.0)]
for polys, cols, lw in groups:
    for poly, col in zip(polys, cols):
        ax.fill(*zip(*poly), facecolor=col, edgecolor='black', linewidth=lw, joinstyle='round')

sns.lineplot(data=edges_frame(medium_edges), x='x', y='y', units='edge', estimator=None,
             sort=False, color='black', linewidth=2.4, solid_capstyle='round', ax=ax, legend=False)
sns.lineplot(data=edges_frame(heavy_edges), x='x', y='y', units='edge', estimator=None,
             sort=False, color='black', linewidth=5.8, solid_capstyle='round', ax=ax, legend=False)

for txt, x, y, em, bold in zip(labels, label_x, label_y, label_em, label_bold):
    off = max(0.25, em * 0.02)
    effects = [pe.SimplePatchShadow(offset=(off, -off), shadow_rgbFace='black', alpha=0.75), pe.Normal()]
    if not bold:
        effects.insert(1, pe.Stroke(linewidth=max(0.2, em * 0.035), foreground='white'))
    ax.text(x, y + em * 0.05, txt, ha='center', va='center', color='white', linespacing=1.03,
            fontsize=em * 1.1535, fontweight='bold' if bold else 'normal', path_effects=effects)

ax.set_xlim(0, 1568)
ax.set_ylim(1568, 0)
ax.axis('off')
fig.savefig('out.png', dpi=100, facecolor='#222222')
